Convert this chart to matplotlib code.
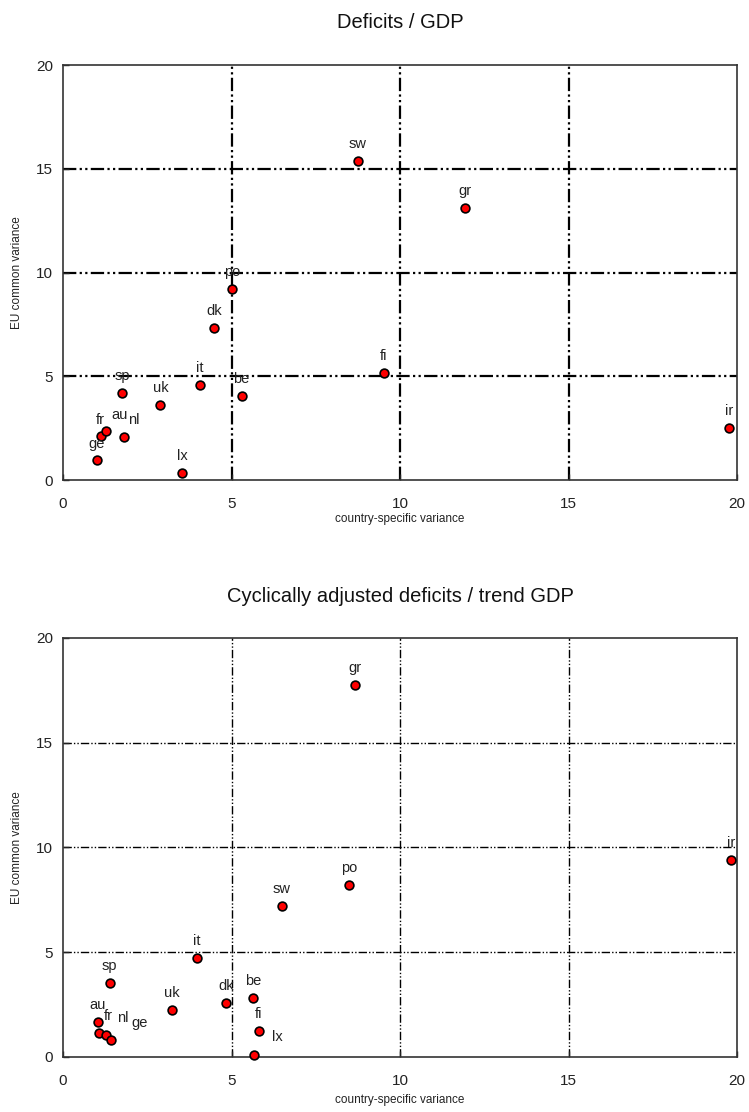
import matplotlib as mpl
mpl.use('Agg')
import matplotlib.pyplot as plt

plt.rcParams['font.family'] = ['Liberation Sans', 'DejaVu Sans']

# Deficits / GDP
countries_top = ['ge', 'fr', 'au', 'nl', 'sp', 'uk', 'it', 'be', 'lx', 'dk', 'po', 'fi', 'sw', 'gr', 'ir']
specific_top = [1.00, 1.13, 1.28, 1.82, 1.75, 2.89, 4.06, 5.30, 3.53, 4.48, 5.01, 9.51, 8.74, 11.93, 19.77]
common_top = [0.97, 2.13, 2.37, 2.06, 4.19, 3.61, 4.60, 4.03, 0.32, 7.31, 9.19, 5.18, 15.40, 13.10, 2.52]

# Cyclically adjusted deficits / trend GDP
countries_bot = ['au', 'fr', 'nl', 'ge', 'sp', 'uk', 'it', 'dk', 'be', 'fi', 'lx', 'sw', 'po', 'gr', 'ir']
specific_bot = [1.03, 1.07, 1.27, 1.41, 1.38, 3.22, 3.97, 4.85, 5.63, 5.81, 5.67, 6.49, 8.50, 8.65, 19.82]
common_bot = [1.65, 1.14, 1.07, 0.83, 3.51, 2.23, 4.74, 2.56, 2.80, 1.25, 0.10, 7.21, 8.22, 17.75, 9.39]

ticks = [0, 5, 10, 15, 20]

# label offsets in pixels (dx, dy up), default is straight above the point
px = 0.72
offsets_top = {'au': (13, 16), 'nl': (9, 17), 'fr': (-1, 16), 'ge': (0, 16)}
offsets_bot = {'fr': (9, 17), 'nl': (17, 17), 'ge': (29, 17), 'lx': (23, 18)}

gridstyle = (0, (6, 1.5, 1, 1.5, 1, 1.5))

fig = plt.figure(figsize=(7.49, 11.12), dpi=100)


def scatter_panel(rect, names, xs, ys, offsets, title, title_y, xlabel_y, gridlw):
    ax = fig.add_axes(rect)
    ax.set_xlim(0, 20)
    ax.set_ylim(0, 20)
    ax.set_xticks(ticks)
    ax.set_yticks(ticks)
    for v in ticks[1:-1]:
        ax.axvline(v, color='black', lw=gridlw, ls=gridstyle, zorder=1)
        ax.axhline(v, color='black', lw=gridlw, ls=gridstyle, zorder=1)
    ax.plot(xs, ys, 'o', ms=6.3, mfc='#ff0000', mec='black', mew=1.2, zorder=3, clip_on=False)
    for name, x, y in zip(names, xs, ys):
        dx, dy = offsets.get(name, (0, 17))
        ax.annotate(name, (x, y), xytext=(dx * px, dy * px), textcoords='offset points',
                    ha='center', va='center', fontsize=10.5, color='#222222', zorder=4)
    for s in ax.spines.values():
        s.set_color('#333333')
        s.set_linewidth(1.2)
    ax.tick_params(axis='both', direction='in', length=4, width=1, labelsize=11,
                   colors='#222222', pad=12)
    ax.tick_params(axis='y', pad=7)
    mid_y = rect[1] + rect[3] / 2
    fig.text(17 / 749, mid_y, 'EU common variance', rotation=90, ha='center', va='center',
             fontsize=8.5, color='#222222')
    fig.text(0.534, title_y, title, ha='center', va='center', fontsize=14.5, color='#111111')
    fig.text(0.534, xlabel_y, 'country-specific variance', ha='center', va='center',
             fontsize=8.5, color='#222222')
    return ax


scatter_panel([0.0841, 0.5683, 0.900, 0.3732], countries_top, specific_top, common_top,
              offsets_top, 'Deficits / GDP', 1 - 22 / 1112, 1 - 519 / 1112, 1.6)
scatter_panel([0.0841, 0.0495, 0.900, 0.3768], countries_bot, specific_bot, common_bot,
              offsets_bot, 'Cyclically adjusted deficits / trend GDP', 1 - 597 / 1112,
              1 - 1100 / 1112, 1.0)

plt.savefig('out.png', dpi=100)
plt.close()
